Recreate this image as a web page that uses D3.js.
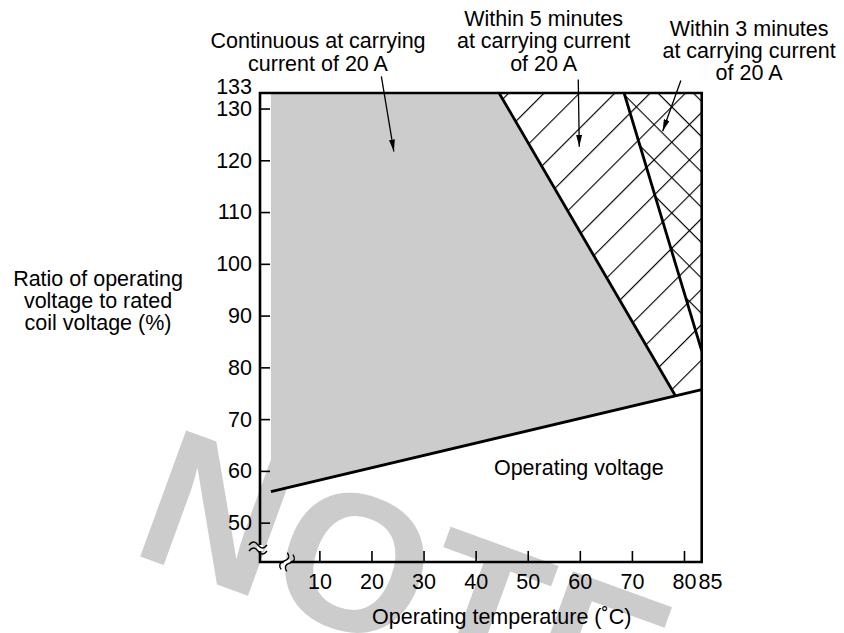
<!DOCTYPE html>
<html>
<head>
<meta charset="utf-8">
<script src="https://cdn.jsdelivr.net/npm/d3@7"></script>
<style>
body { margin: 0; background: #fff; }
text { font-family: "Liberation Sans", Arial, Helvetica, sans-serif; }
</style>
</head>
<body>
<div id="chart"></div>
<script>
// axis values (temperature in degC, voltage ratio in %)
var xTicks = [10, 20, 30, 40, 50, 60, 70, 80, 85];
var yTicks = [50, 60, 70, 80, 90, 100, 110, 120, 130, 133];
var xExtent = [-1.4, 83.4];   // axis break on the left, frame edge on the right
var yExtent = [42.4, 133];
var xBreak = 3.8;
var yBreak = 45.1;

// boundary lines
var opVoltage = [{t: 0.7, v: 56.0}, {t: 83.4, v: 75.7}];
var limitCont = [{t: 44.5, v: 133}, {t: 78.3, v: 74.6}];
var limit3min = [{t: 68.5, v: 133}, {t: 83.4, v: 83.2}];

// regions
var areaCont = [{t: 0.7, v: 56.0}, {t: 0.7, v: 133}, {t: 44.5, v: 133}, {t: 78.3, v: 74.6}];
var area5min = [{t: 44.5, v: 133}, {t: 83.4, v: 133}, {t: 83.4, v: 75.7}, {t: 78.3, v: 74.6}];
var area3min = [{t: 68.5, v: 133}, {t: 83.4, v: 133}, {t: 83.4, v: 83.2}];

// annotation texts
var labelCont = ["Continuous at carrying", "current of 20 A"];
var label5min = ["Within 5 minutes", "at carrying current", "of 20 A"];
var label3min = ["Within 3 minutes", "at carrying current", "of 20 A"];
var yLabel = ["Ratio of operating", "voltage to rated", "coil voltage (%)"];
var xLabel = "Operating temperature (\u02DAC)";
var areaLabel = "Operating voltage";

var W = 844, H = 633;
var FONT = 21.5, LINE = 22.3;

var svg = d3.select("#chart")
  .append("svg")
  .attr("width", W)
  .attr("height", H);

var x = d3.scaleLinear()
  .domain(xExtent)
  .range([260, 701.7]);

var y = d3.scaleLinear()
  .domain(yExtent)
  .range([562, 93]);

var line = d3.line()
  .x(function(d) { return x(d.t); })
  .y(function(d) { return y(d.v); });

var defs = svg.append("defs");

// hatch patterns
defs.append("pattern")
  .attr("id", "hatchUp")
  .attr("patternUnits", "userSpaceOnUse")
  .attr("width", 25).attr("height", 25)
  .attr("patternTransform", "rotate(-45)")
  .append("line")
  .attr("x1", 0).attr("y1", 0.5).attr("x2", 25).attr("y2", 0.5)
  .attr("stroke", "#000").attr("stroke-width", 1.3);

defs.append("pattern")
  .attr("id", "hatchDown")
  .attr("patternUnits", "userSpaceOnUse")
  .attr("width", 25).attr("height", 25)
  .attr("patternTransform", "rotate(45)")
  .append("line")
  .attr("x1", 0).attr("y1", 0.5).attr("x2", 25).attr("y2", 0.5)
  .attr("stroke", "#000").attr("stroke-width", 1.3);

defs.append("marker")
  .attr("id", "arrowhead")
  .attr("markerUnits", "userSpaceOnUse")
  .attr("viewBox", "0 0 12 6")
  .attr("refX", 12).attr("refY", 3)
  .attr("markerWidth", 12).attr("markerHeight", 6)
  .attr("orient", "auto")
  .append("path")
  .attr("d", "M0,0 L12,3 L0,6 Z")
  .attr("fill", "#000");

// watermark behind everything
svg.append("text")
  .attr("transform", "translate(128,552) rotate(20)")
  .attr("font-size", 195)
  .attr("font-weight", "bold")
  .attr("fill", "#cccccc")
  .text("NOTE");

// shaded and hatched areas
svg.append("path")
  .datum(areaCont)
  .attr("d", function(d) { return line(d) + "Z"; })
  .attr("fill", "#cccccc");

svg.append("path")
  .datum(area5min)
  .attr("d", function(d) { return line(d) + "Z"; })
  .attr("fill", "url(#hatchUp)");

svg.append("path")
  .datum(area3min)
  .attr("d", function(d) { return line(d) + "Z"; })
  .attr("fill", "url(#hatchDown)");

// boundary lines
[opVoltage, limitCont, limit3min].forEach(function(d) {
  svg.append("path")
    .datum(d)
    .attr("d", line)
    .attr("fill", "none")
    .attr("stroke", "#000")
    .attr("stroke-width", 2.8);
});

// frame
var frame = [
  {t: xExtent[0], v: yExtent[1]}, {t: xExtent[0], v: yExtent[0]},
  {t: xExtent[1], v: yExtent[0]}, {t: xExtent[1], v: yExtent[1]}
];
svg.append("path")
  .datum(frame)
  .attr("d", function(d) { return line(d) + "Z"; })
  .attr("fill", "none")
  .attr("stroke", "#000")
  .attr("stroke-width", 2.6);

// axes
var yAxis = d3.axisLeft(y).tickValues(yTicks).tickSize(-10).tickPadding(8);
var xAxis = d3.axisBottom(x).tickValues(xTicks).tickSize(-11).tickPadding(12);

var gy = svg.append("g")
  .attr("transform", "translate(" + x(xExtent[0]) + ",0)")
  .call(yAxis);
var gx = svg.append("g")
  .attr("transform", "translate(0," + y(yExtent[0]) + ")")
  .call(xAxis);

[gy, gx].forEach(function(g) {
  g.select(".domain").remove();
  g.attr("font-size", null).attr("font-family", null);
  g.selectAll("text").style("font-size", FONT + "px").attr("fill", "#000");
  g.selectAll("line").attr("stroke", "#000").attr("stroke-width", 1.6);
});
// 133 sits on the top edge, 85 beside the right edge: labels only
gy.selectAll(".tick").filter(function(d) { return d === 133; })
  .select("line").remove();
gy.selectAll(".tick").filter(function(d) { return d === 133; })
  .select("text").attr("dy", "0em");
gx.selectAll(".tick").filter(function(d) { return d === 85; })
  .select("line").remove();

// axis break marks
var wave = "M-9,0 C-6,-4 -3,-4 0,0 S6,4 9,0";
var yb = svg.append("g")
  .attr("transform", "translate(" + x(xExtent[0]) + "," + y(yBreak) + ")");
yb.append("rect").attr("x", -3).attr("y", -3).attr("width", 6).attr("height", 6).attr("fill", "#fff");
yb.append("path").attr("d", wave).attr("transform", "translate(-2,-3)");
yb.append("path").attr("d", wave).attr("transform", "translate(-2,3)");
yb.selectAll("path").attr("fill", "none").attr("stroke", "#000").attr("stroke-width", 1.4);

var xb = svg.append("g")
  .attr("transform", "translate(" + x(xBreak) + "," + y(yExtent[0]) + ") rotate(-70)");
xb.append("rect").attr("x", -3).attr("y", -3).attr("width", 6).attr("height", 6).attr("fill", "#fff");
xb.append("path").attr("d", wave).attr("transform", "translate(0,-3)");
xb.append("path").attr("d", wave).attr("transform", "translate(0,3)");
xb.selectAll("path").attr("fill", "none").attr("stroke", "#000").attr("stroke-width", 1.4);

// multi-line text, first line centred on (px, py)
function block(lines, px, py) {
  var t = svg.append("text")
    .attr("text-anchor", "middle")
    .attr("font-size", FONT)
    .attr("fill", "#000");
  lines.forEach(function(s, i) {
    t.append("tspan")
      .attr("x", px)
      .attr("y", py + i * LINE)
      .attr("dy", "0.35em")
      .text(s);
  });
}

block(labelCont, x(9.74), y(143.1));
block(label5min, x(53.05), y(147.4));
block(label3min, x(92.5), y(145.5));
block(yLabel, 98, y(97.2));
block([areaLabel], x(59.8), y(60.6));
block([xLabel], x(45.0), y(31.8));

// pointer arrows
var arrows = [
  [{t: 21.9, v: 136.2}, {t: 24.3, v: 121.7}],
  [{t: 59.7, v: 135.6}, {t: 59.9, v: 122.6}],
  [{t: 79.4, v: 135.4}, {t: 75.9, v: 125.6}]
];
arrows.forEach(function(d) {
  svg.append("path")
    .datum(d)
    .attr("d", line)
    .attr("fill", "none")
    .attr("stroke", "#000")
    .attr("stroke-width", 1.3)
    .attr("marker-end", "url(#arrowhead)");
});
</script>
</body>
</html>
